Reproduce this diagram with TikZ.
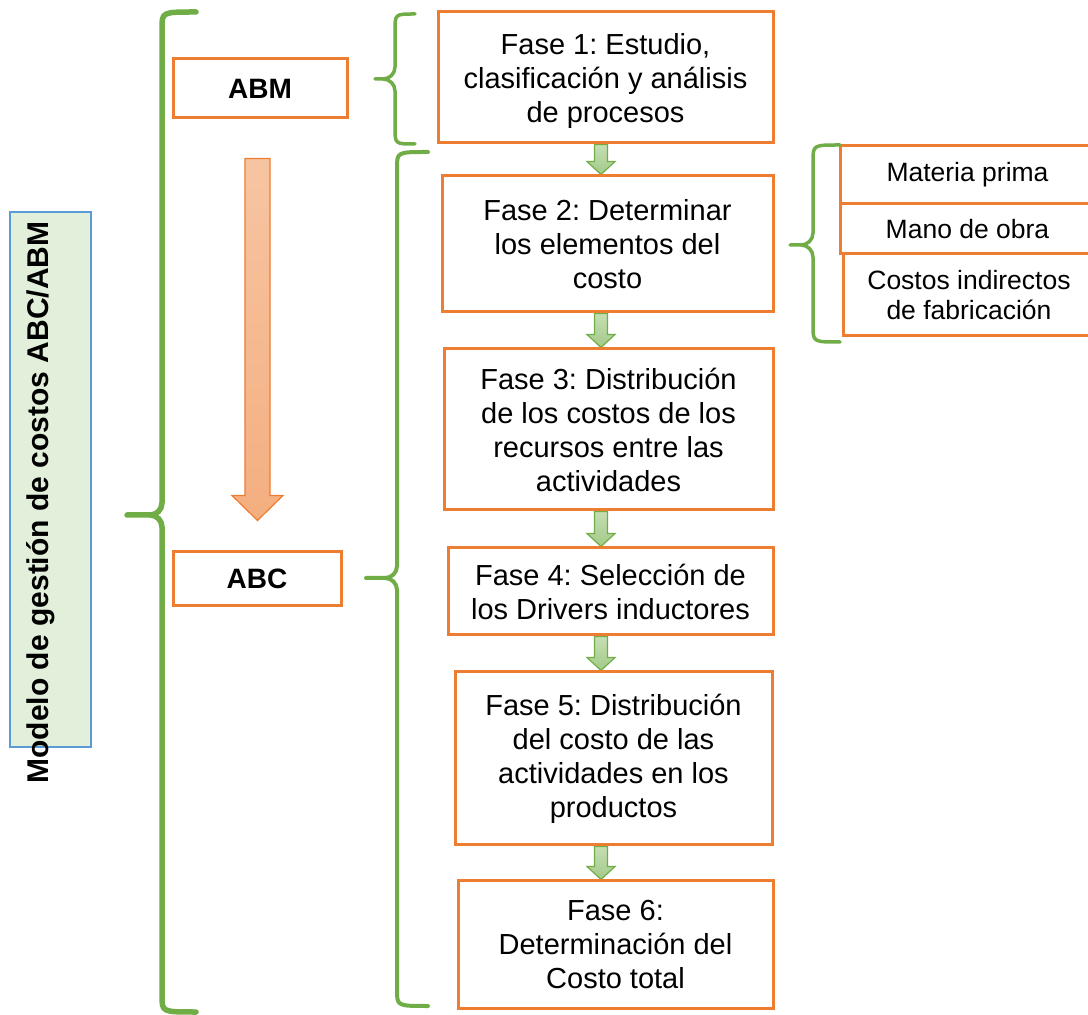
\documentclass[tikz,border=0pt]{standalone}
\usepackage{fontspec}
\setmainfont{Liberation Sans}
\usepackage{tikz}
\usetikzlibrary{calc}
\frenchspacing

\definecolor{boxorange}{HTML}{ED7D31}
\definecolor{bracegreen}{HTML}{70AD47}
\definecolor{modelblue}{HTML}{5B9BD5}
\definecolor{modelfill}{HTML}{E2EFDA}

\pgfdeclarelayer{background}
\pgfsetlayers{background,main}

% left brace as drawn by Word: end x, middle x, tip x, top y, tip y, bottom y
\newcommand\wordbrace[7][]{%
  \draw[brace line,#1] (#2,#5) .. controls (#3,#5) .. (#3,#5+16)
    -- (#3,#6-12) to[out=-90,in=0] (#3-12,#6) -- (#4,#6)
    -- (#3-12,#6) to[out=0,in=90] (#3,#6+12)
    -- (#3,#7-16) .. controls (#3,#7) .. (#2,#7);}

% small block arrow from one phase to the next
\newcommand\stepdown[2]{%
  \path[step arrow] let \p1=(spine|-#1.south), \p2=(spine|-#2.north) in
    (\x1-3.25pt,\y1) -- (\x1+3.25pt,\y1) -- (\x1+3.25pt,\y2+6.5pt)
    -- (\x1+7pt,\y2+6.5pt) -- (\x2,\y2) -- (\x1-7pt,\y2+6.5pt)
    -- (\x1-3.25pt,\y2+6.5pt) -- cycle;}

\begin{document}
\begin{tikzpicture}[x=0.5pt,y=-0.5pt,
    phase/.style={draw=boxorange,line width=1.5pt,align=center,inner sep=0pt,
      font=\fontsize{14.5}{17}\selectfont},
    label box/.style={draw=boxorange,line width=1.5pt,inner sep=0pt,
      font=\fontsize{14}{17}\selectfont\bfseries},
    element/.style={draw=boxorange,line width=1.5pt,align=center,inner sep=0pt,
      minimum width=127.5pt,font=\fontsize{13.25}{15}\selectfont},
    brace line/.style={draw=bracegreen,line width=1.75pt,line cap=round,line join=round},
    step arrow/.style={draw=bracegreen,line width=0.6pt,top color=bracegreen!40,
      bottom color=bracegreen!65},
    flow arrow/.style={draw=boxorange,line width=0.6pt,top color=boxorange!45,
      bottom color=boxorange!62}]
  \useasboundingbox (0,0) rectangle (1088,1015);
  \clip (0,0) rectangle (1088,1015);

  % model label
  \node[draw=modelblue,fill=modelfill,line width=1.25pt,minimum width=40.5pt,
    minimum height=267.5pt,inner sep=0pt] (model) at (50.5,479.5) {};
  \node[rotate=90,inner sep=0pt,font=\fontsize{15}{18}\selectfont\bfseries]
    (modeltext) at (41,502.5) {Modelo de gestión de costos ABC/ABM};

  % ABM / ABC
  \node[label box,minimum width=87pt,minimum height=29.5pt] (abm) at (260,88.5) {ABM};
  \node[label box,minimum width=84pt,minimum height=27pt] (abc) at (257,579) {ABC};

  % phases
  \coordinate (spine) at (601,0);
  \node[phase,minimum width=167.5pt,minimum height=65.5pt] (f1) at (605.5,77.5)
    {\rule{0pt}{14.5pt}Fase 1: Estudio,\\clasificación y análisis\\de procesos};
  \node[phase,minimum width=165.5pt,minimum height=68pt] (f2) at (607.5,244)
    {Fase 2: Determinar\\los elementos del\\costo};
  \node[phase,minimum width=164.5pt,minimum height=80.5pt] (f3) at (608.5,429.5)
    {Fase 3: Distribución\\de los costos de los\\recursos entre las\\actividades};
  \node[phase,minimum width=162.5pt,minimum height=43.5pt] (f4) at (610.5,591.5)
    {Fase 4: Selección de\\los Drivers inductores};
  \node[phase,minimum width=158.5pt,minimum height=86.5pt] (f5) at (613.5,758.5)
    {Fase 5: Distribución\\del costo de las\\actividades en los\\productos};
  \node[phase,minimum width=157.5pt,minimum height=63.5pt] (f6) at (615.5,944.5)
    {Fase 6:\\Determinación del\\Costo total};

  % cost elements
  \node[element,minimum height=29pt] (prima) at (967.5,175) {Materia prima};
  \node[element,minimum height=25pt] (obra) at (967.5,229) {Mano de obra};
  \node[element,minimum width=126pt,minimum height=41pt] (indirectos) at (969,295)
    {Costos indirectos\\de fabricación};

  % arrows
  \begin{pgfonlayer}{background}
    \path[flow arrow] let \p1=([xshift=-1.25pt,yshift=-19.5pt]abm.south),
        \p2=([xshift=-1.25pt,yshift=15pt]abm.south|-abc.north) in
      (\x1-6.25pt,\y1) -- (\x1+6.25pt,\y1) -- (\x1+6.25pt,\y2+12.5pt)
      -- (\x1+12.75pt,\y2+12.5pt) -- (\x2,\y2) -- (\x1-12.75pt,\y2+12.5pt)
      -- (\x1-6.25pt,\y2+12.5pt) -- cycle;
    \stepdown{f1}{f2}
    \stepdown{f2}{f3}
    \stepdown{f3}{f4}
    \stepdown{f4}{f5}
    \stepdown{f5}{f6}
  \end{pgfonlayer}

  % braces
  \wordbrace[line width=2.75pt]{196}{162}{127}{12}{515}{1012}
  \wordbrace{415}{395}{375}{14}{79}{144}
  \wordbrace[line width=2pt]{428}{397}{366}{152}{578}{1006}
  \wordbrace{840}{813}{790}{145}{245}{342}
\end{tikzpicture}
\end{document}
